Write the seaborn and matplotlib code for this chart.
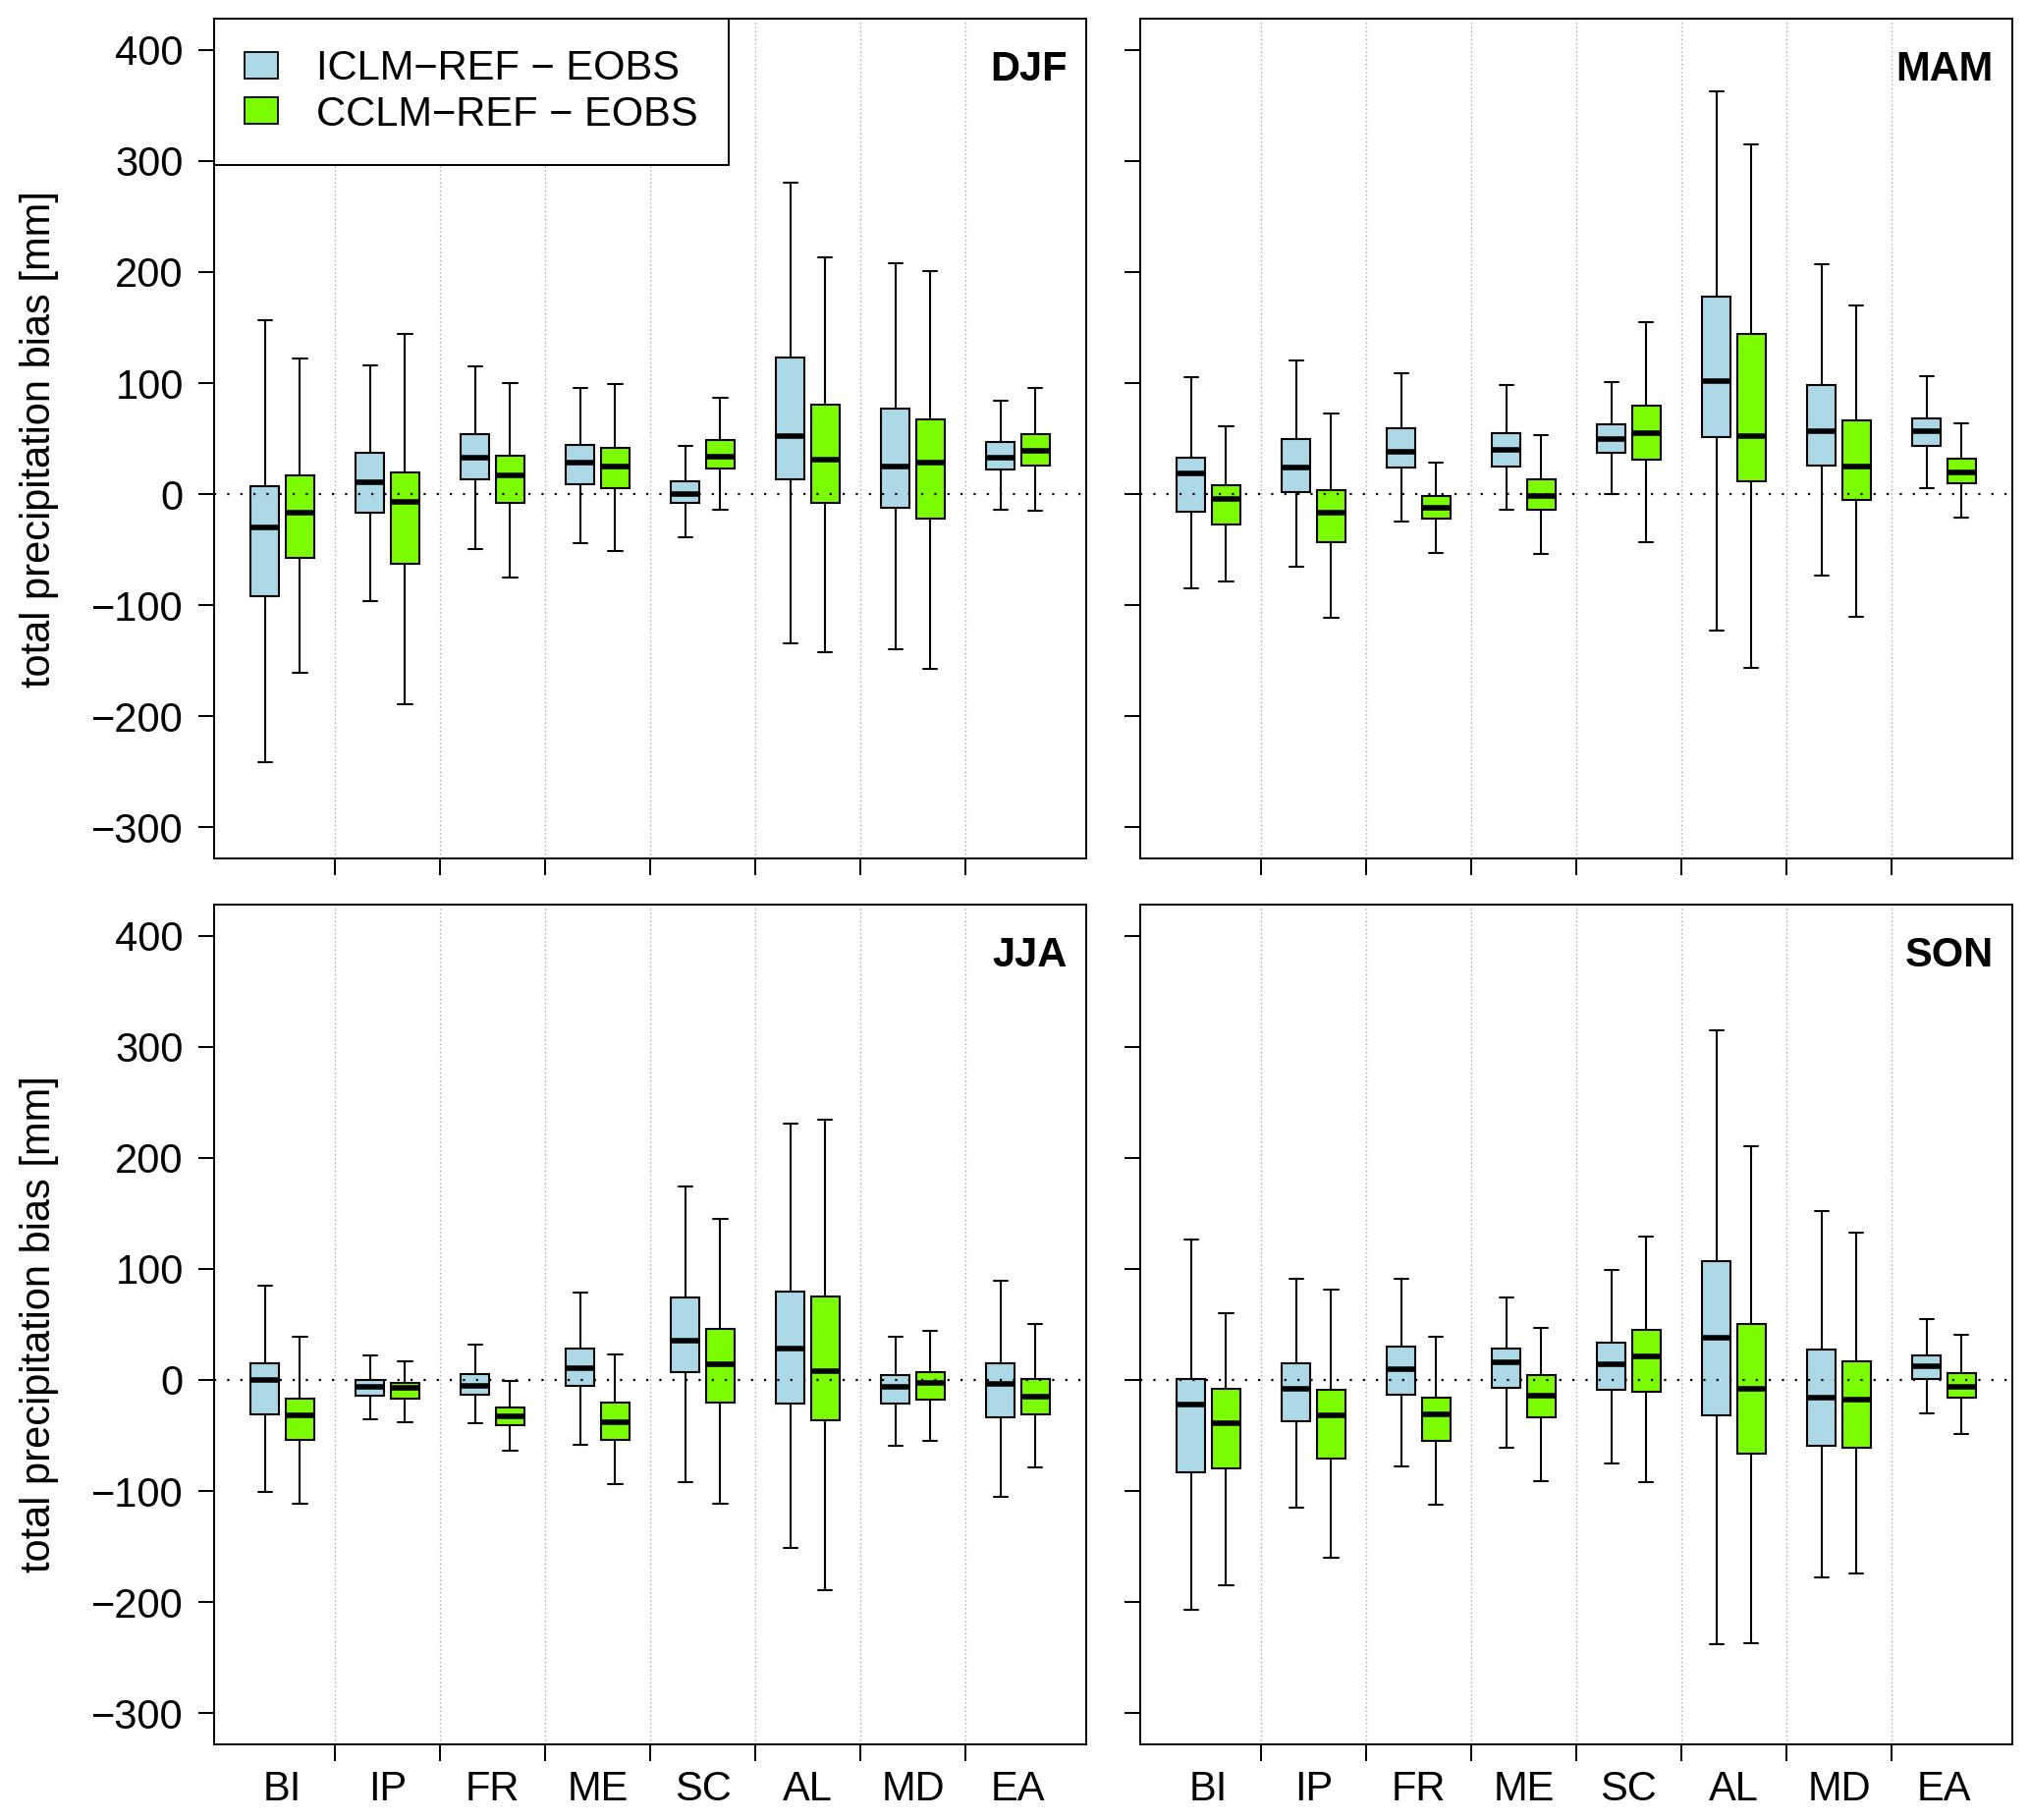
import numpy as np
import pandas as pd
import matplotlib
matplotlib.use('Agg')
import matplotlib.pyplot as plt
import seaborn as sns
from matplotlib.patches import Patch

# region order along the x axis
regions = ['BI', 'IP', 'FR', 'ME', 'SC', 'AL', 'MD', 'EA']
models = ['ICLM\u2212REF \u2212 EOBS', 'CCLM\u2212REF \u2212 EOBS']
seasons = ['DJF', 'MAM', 'JJA', 'SON']
box_colors = ['#ADD8E6', '#7CFC00']   # lightblue / lawngreen

# each box: (lower whisker, q1, median, q3, upper whisker)
djf_iclm = [(-241, -92, -30, 7, 157), (-96, -17, 11, 37, 116), (-49, 13, 33, 54, 115),
            (-44, 9, 28, 44, 96), (-39, -8, 0, 12, 43), (-134, 13, 52, 123, 280),
            (-140, -12, 25, 77, 208), (-14, 22, 33, 47, 84)]
djf_cclm = [(-161, -57, -17, 17, 122), (-189, -63, -7, 20, 144), (-75, -8, 17, 35, 100),
            (-51, 5, 25, 42, 99), (-14, 23, 34, 49, 87), (-142, -8, 31, 81, 213),
            (-157, -22, 28, 67, 201), (-15, 26, 39, 54, 96)]
mam_iclm = [(-85, -16, 19, 33, 105), (-65, 2, 24, 50, 120), (-25, 24, 38, 59, 109),
            (-14, 25, 40, 55, 98), (0, 37, 50, 63, 101), (-123, 51, 102, 178, 363),
            (-73, 26, 57, 98, 207), (5, 43, 57, 68, 106)]
mam_cclm = [(-79, -27, -4, 8, 61), (-111, -43, -17, 4, 73), (-53, -22, -12, -2, 28),
            (-54, -14, -2, 13, 53), (-43, 31, 55, 80, 155), (-156, 12, 52, 144, 315),
            (-110, -5, 25, 66, 170), (-21, 10, 20, 32, 64)]
jja_iclm = [(-101, -31, 0, 15, 85), (-35, -14, -6, 0, 22), (-39, -13, -5, 5, 32),
            (-58, -5, 11, 28, 79), (-92, 7, 35, 74, 174), (-151, -21, 28, 80, 231),
            (-59, -21, -6, 4, 39), (-105, -34, -4, 15, 89)]
jja_cclm = [(-111, -54, -32, -17, 39), (-38, -17, -7, -3, 17), (-64, -41, -33, -25, -1),
            (-94, -54, -38, -20, 23), (-111, -20, 14, 46, 145), (-189, -36, 8, 75, 234),
            (-55, -18, -3, 7, 44), (-79, -31, -15, 1, 50)]
son_iclm = [(-207, -83, -22, 1, 126), (-115, -37, -8, 15, 91), (-78, -13, 10, 30, 91),
            (-61, -7, 16, 28, 74), (-75, -9, 14, 34, 99), (-238, -32, 38, 107, 315),
            (-178, -59, -16, 27, 152), (-30, 1, 12, 22, 55)]
son_cclm = [(-185, -80, -39, -8, 60), (-160, -71, -32, -9, 81), (-112, -55, -31, -16, 39),
            (-91, -34, -14, 4, 47), (-92, -11, 21, 45, 129), (-237, -66, -8, 50, 210),
            (-174, -61, -18, 17, 133), (-49, -16, -6, 6, 41)]

y_ticks = [-300, -200, -100, 0, 100, 200, 300, 400]


def long_table(iclm, cclm):
    # five values per box -> quartiles of those five give exactly the box
    rows = []
    for model, boxes in zip(models, (iclm, cclm)):
        for reg, five in zip(regions, boxes):
            for v in five:
                rows.append((reg, model, v))
    return pd.DataFrame(rows, columns=['region', 'model', 'bias'])


tables = {
    'DJF': long_table(djf_iclm, djf_cclm),
    'MAM': long_table(mam_iclm, mam_cclm),
    'JJA': long_table(jja_iclm, jja_cclm),
    'SON': long_table(son_iclm, son_cclm),
}

sns.set_theme(style='ticks')
plt.rcParams['font.family'] = ['Liberation Sans', 'DejaVu Sans']
plt.rcParams['axes.linewidth'] = 1.4
for key in ('text.color', 'axes.labelcolor', 'xtick.color', 'ytick.color', 'axes.edgecolor'):
    plt.rcParams[key] = 'black'

fig = plt.figure(figsize=(20.67, 18.53), dpi=100)
lefts = [0.1055, 0.5617]
bottoms = [0.5283, 0.0416]
w, h = 0.4296, 0.4614

fs = 30
for k, season in enumerate(seasons):
    row, col = divmod(k, 2)
    ax = fig.add_axes([lefts[col], bottoms[row], w, h])
    sns.boxplot(data=tables[season], x='region', y='bias', hue='model',
                order=regions, hue_order=models, palette=box_colors,
                saturation=1, width=0.664, gap=0.19, whis=(0, 100),
                showfliers=False, linecolor='black', linewidth=1.5,
                medianprops=dict(linewidth=4, color='black'),
                legend=False, ax=ax)

    for xb in np.arange(0.5, 7.5, 1):
        ax.axvline(xb, color='#a8a8a8', lw=1.0, ls=(0, (1, 2)), zorder=0)
    ax.axhline(0, color='black', lw=1.6, ls=(0, (1, 5)), zorder=6)

    ax.set_xlim(-0.65, 7.65)
    ax.set_ylim(-328, 428)
    ax.set_yticks(y_ticks)
    ax.set_xticks(range(len(regions)))
    ax.set_xticks(np.arange(0.5, 7.5, 1), minor=True)
    ax.set_xticklabels(regions)
    ax.tick_params(axis='y', length=11.5, width=1.4, pad=11, labelsize=fs,
                   labelleft=(col == 0))
    ax.tick_params(axis='x', which='major', length=0, pad=19, labelsize=fs,
                   labelbottom=(row == 1))
    ax.tick_params(axis='x', which='minor', length=12, width=1.4)
    ax.set_xlabel('')
    if col == 0:
        ax.set_ylabel('total precipitation bias [mm]', fontsize=fs, labelpad=24)
    else:
        ax.set_ylabel('')
    for sp in ax.spines.values():
        sp.set_linewidth(1.4)
        sp.set_color('black')

    ax.text(0.978, 0.939, season, transform=ax.transAxes, ha='right', va='center',
            fontsize=fs, fontweight='bold')

    if season == 'DJF':
        handles = [Patch(facecolor=c, edgecolor='black', linewidth=1.3, label=m)
                   for c, m in zip(box_colors, models)]
        leg = ax.legend(handles=handles, loc='upper left', bbox_to_anchor=(0, 1),
                        borderaxespad=0, frameon=True, fancybox=False,
                        edgecolor='black', framealpha=1, fontsize=fs,
                        handlelength=0.8, handleheight=0.62, handletextpad=0.95,
                        borderpad=0.75, labelspacing=0.15)
        leg.get_frame().set_linewidth(1.4)
        leg.set_zorder(10)

fig.savefig('out.png', dpi=100)
